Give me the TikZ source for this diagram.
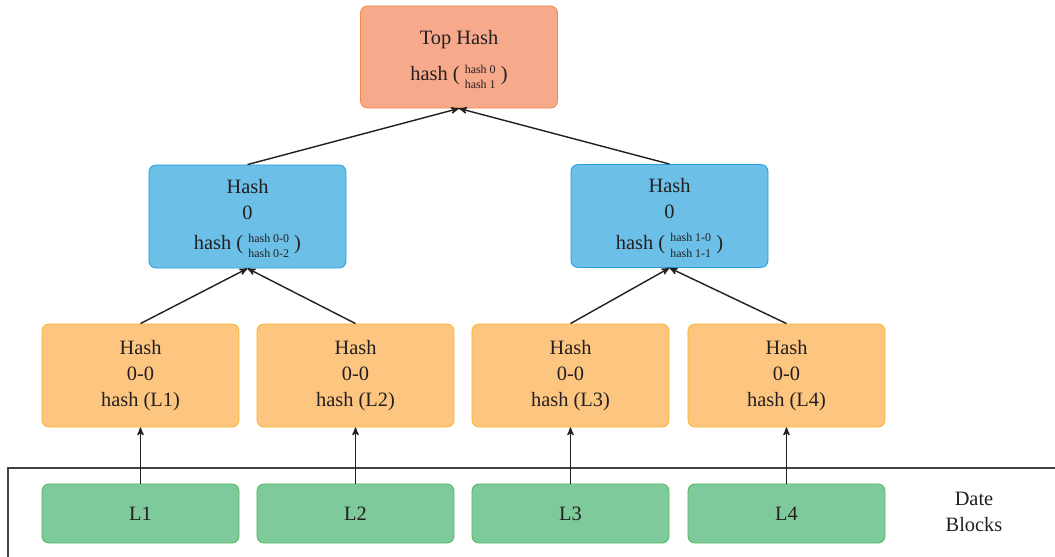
\documentclass[tikz,border=0pt]{standalone}
\usepackage{fontspec}
\setmainfont{Liberation Serif}
\usetikzlibrary{arrows,positioning}
\definecolor{topfill}{HTML}{F7A98B}
\definecolor{topline}{HTML}{F28A45}
\definecolor{bluefill}{HTML}{6CC0E7}
\definecolor{blueline}{HTML}{2C9DDA}
\definecolor{orangefill}{HTML}{FCC681}
\definecolor{orangeline}{HTML}{FAB52C}
\definecolor{greenfill}{HTML}{7FCA9A}
\definecolor{greenline}{HTML}{4EBB60}
\definecolor{txt}{HTML}{231F20}
\newcommand{\hashof}[2]{hash ( {\fontsize{8.5}{11}\selectfont\begin{tabular}{@{}c@{}}#1\\#2\end{tabular}} )}
\tikzset{>=stealth',
         hashbox/.style={draw, rounded corners=5pt, line width=0.6pt,
           minimum width=4.925cm, minimum height=2.575cm, align=center,
           text=txt, font=\fontsize{14.5}{18.5}\selectfont},
         tophash/.style={hashbox, fill=topfill, draw=topline, minimum height=2.55cm},
         midhash/.style={hashbox, fill=bluefill, draw=blueline},
         leafhash/.style={hashbox, fill=orangefill, draw=orangeline},
         datablock/.style={hashbox, fill=greenfill, draw=greenline, minimum height=1.475cm},
         link/.style={->, line width=1pt, draw=txt}}

\begin{document}
\begin{tikzpicture}[x=0.025cm, y=-0.025cm]
	\useasboundingbox (0,0) rectangle (1055,557);
	% tree of hashes
	\node[tophash] (top) at (459,57) {\rule{0pt}{17pt}Top Hash\\[7pt]\hashof{hash 0}{hash 1}};
	\node[midhash] (h0) at (247.5,216.5) {\rule{0pt}{16pt}Hash\\0\\[3pt]\hashof{hash 0-0}{hash 0-2}};
	\node[midhash] (h1) at (669.5,216) {\rule{0pt}{16pt}Hash\\0\\[3pt]\hashof{hash 1-0}{hash 1-1}};
	\node[leafhash] (h00) at (140.5,375.5) {Hash\\0-0\\hash (L1)};
	\node[leafhash] (h01) at (355.5,375.5) {Hash\\0-0\\hash (L2)};
	\node[leafhash] (h10) at (570.5,375.5) {Hash\\0-0\\hash (L3)};
	\node[leafhash] (h11) at (786.5,375.5) {Hash\\0-0\\hash (L4)};
	% data blocks
	\node[datablock] (l1) at (140.5,513.5) {L1};
	\node[datablock] (l2) at (355.5,513.5) {L2};
	\node[datablock] (l3) at (570.5,513.5) {L3};
	\node[datablock] (l4) at (786.5,513.5) {L4};
	\node[text=txt, align=center, font=\fontsize{14.5}{18.5}\selectfont] (blocks) at (974,512) {Date\\Blocks};
	\draw[line width=0.8pt, draw=txt!85] (1055,468) -| (8,557);
	% links
	\draw[link] (h0.north) -- (top.south);
	\draw[link] (h1.north) -- (top.south);
	\draw[link] (h00.north) -- (h0.south);
	\draw[link] (h01.north) -- (h0.south);
	\draw[link] (h10.north) -- (h1.south);
	\draw[link] (h11.north) -- (h1.south);
	\foreach \i/\j in {l1/h00, l2/h01, l3/h10, l4/h11}
		\draw[link] (\i.north) -- (\j.south);
\end{tikzpicture}
\end{document}
